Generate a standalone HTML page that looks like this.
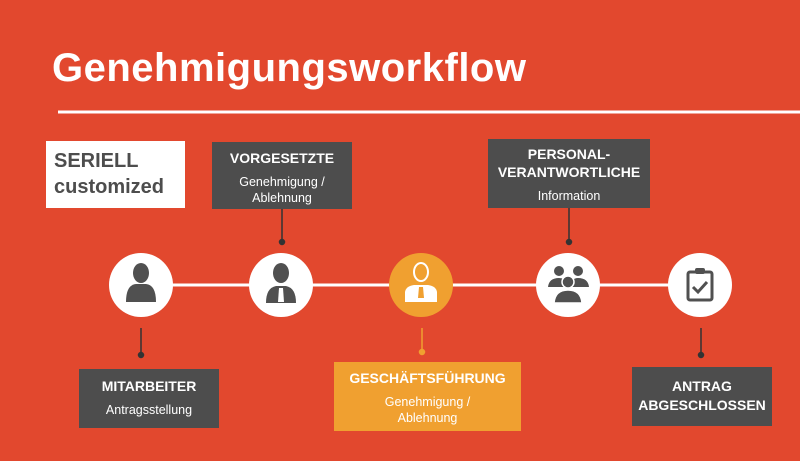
<!DOCTYPE html>
<html><head><meta charset="utf-8"><style>
*{margin:0;padding:0;box-sizing:border-box}
body{width:800px;height:461px;background:#e2482e;position:relative;overflow:hidden;font-family:"Liberation Sans",sans-serif}
.t{position:absolute;left:52px;top:46px;color:#fff;font-weight:bold;font-size:40px;letter-spacing:0.5px}
.box{position:absolute;background:#4d4d4d;color:#fff;text-align:center}
.box b{display:block;font-size:14px;font-weight:bold}
.box span{display:block;font-size:12.5px;line-height:16px}
svg{position:absolute;left:0;top:0}
</style></head><body>
<div class="t">Genehmigungsworkflow</div>
<svg width="800" height="461">
<line x1="58" y1="112" x2="800" y2="112" stroke="#fff" stroke-width="3"/>
<line x1="141" y1="285" x2="700" y2="285" stroke="#fff" stroke-width="3"/>
<g stroke="#333" stroke-width="1.5" fill="#333">
<line x1="282" y1="209" x2="282" y2="242"/><circle cx="282" cy="242" r="2.5"/>
<line x1="569" y1="208" x2="569" y2="242"/><circle cx="569" cy="242" r="2.5"/>
<line x1="141" y1="328" x2="141" y2="355"/><circle cx="141" cy="355" r="2.5"/>
<line x1="701" y1="328" x2="701" y2="355"/><circle cx="701" cy="355" r="2.5"/>
</g>
<g stroke="#f0a030" stroke-width="1.5" fill="#f0a030"><line x1="422" y1="328" x2="422" y2="352"/><circle cx="422" cy="352" r="2.5"/></g>
<circle cx="141" cy="285" r="32" fill="#fff"/>
<circle cx="281" cy="285" r="32" fill="#fff"/>
<circle cx="421" cy="285" r="32" fill="#f0a030"/>
<circle cx="568" cy="285" r="32" fill="#fff"/>
<circle cx="700" cy="285" r="32" fill="#fff"/>
<g fill="#505050">
<ellipse cx="141" cy="273" rx="8" ry="10"/>
<path d="M126 302 Q126 285 136 284 L146 284 Q156 285 156 302 Z"/>
<ellipse cx="281" cy="273" rx="8" ry="10"/>
<path d="M266 303 Q266 288 276 286 L286 286 Q296 288 296 303 Z"/>
</g>
<path d="M279 288 L283 288 L284 302 L278 302 Z" fill="#fff"/>
<g fill="#fff">
<ellipse cx="421" cy="272" rx="7" ry="9" fill="none" stroke="#fff" stroke-width="2"/>
<path d="M405 302 L405 292 Q406 286 414 285 L428 285 Q436 286 437 292 L437 302 Z"/>
</g>
<path d="M419 287 L423 287 L424 298 L418 298 Z" fill="#f0a030"/>
<g fill="#505050">
<circle cx="559" cy="271" r="5"/><circle cx="578" cy="271" r="5"/>
<path d="M548 287 Q549 278 559 278 Q566 278 568 283 L568 287 Z"/>
<path d="M569 287 Q571 278 578 278 Q588 278 589 287 Z"/>
<circle cx="568" cy="282" r="6" stroke="#fff" stroke-width="1.5"/>
<path d="M554 303 Q555 290 568 290 Q581 290 582 303 Z" stroke="#fff" stroke-width="1.5"/>
</g>
<rect x="688" y="272" width="24" height="28" rx="2" fill="none" stroke="#505050" stroke-width="3"/>
<rect x="695" y="268" width="10" height="6" rx="2" fill="#505050"/>
<path d="M693 287 L698 292 L707 282" fill="none" stroke="#505050" stroke-width="3"/>
</svg>
<div style="position:absolute;left:46px;top:141px;width:139px;height:67px;background:#fff;color:#4d4d4d;font-weight:bold;font-size:20px;line-height:26px;padding:7px 0 0 8px">SERIELL<br>customized</div>
<div class="box" style="left:212px;top:142px;width:140px;height:67px;padding-top:8px"><b>VORGESETZTE</b><span style="margin-top:8px">Genehmigung /</span><span>Ablehnung</span></div>
<div class="box" style="left:488px;top:139px;width:162px;height:69px;padding-top:6px"><b style="line-height:18px">PERSONAL-<br>VERANTWORTLICHE</b><span style="margin-top:7px">Information</span></div>
<div class="box" style="left:79px;top:369px;width:140px;height:59px;padding-top:9px"><b>MITARBEITER</b><span style="margin-top:8px">Antragsstellung</span></div>
<div class="box" style="left:334px;top:362px;width:187px;height:69px;padding-top:8px;background:#f0a030"><b>GESCHÄFTSFÜHRUNG</b><span style="margin-top:8px">Genehmigung /</span><span>Ablehnung</span></div>
<div class="box" style="left:632px;top:367px;width:140px;height:59px;padding-top:10px"><b style="line-height:19px">ANTRAG<br>ABGESCHLOSSEN</b></div>
</body></html>
